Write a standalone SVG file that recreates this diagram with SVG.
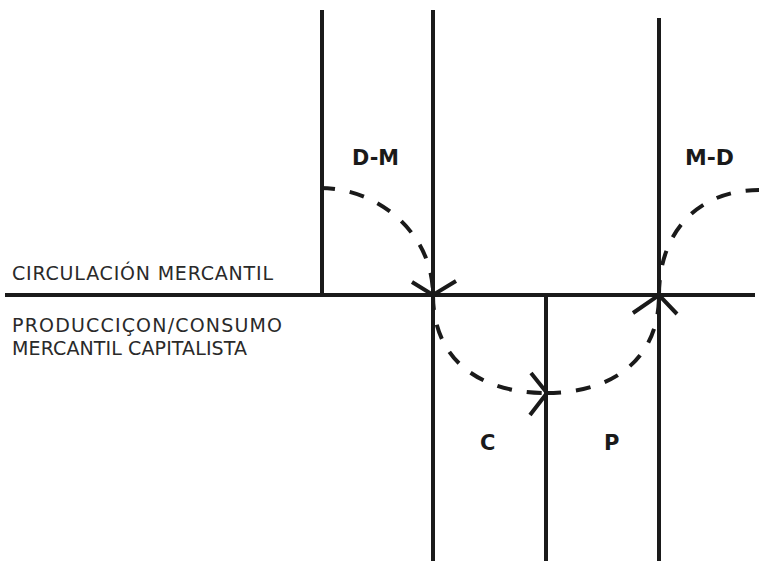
<svg xmlns="http://www.w3.org/2000/svg" width="759" height="569" viewBox="0 0 759 569">
  <style>
    .line { stroke: #1a1a1a; stroke-width: 4; fill: none; stroke-linecap: butt; }
    .dash { stroke: #1a1a1a; stroke-width: 4; fill: none; stroke-dasharray: 15 15; }
    .arrow { stroke: #1a1a1a; stroke-width: 4; fill: none; stroke-linejoin: miter; }
    .lbl { font-family: "DejaVu Sans", "Liberation Sans", sans-serif; font-size: 19px; fill: #2a2a2a; }
    .big { font-family: "DejaVu Sans", "Liberation Sans", sans-serif; font-size: 21px; font-weight: bold; fill: #1a1a1a; }
  </style>
  <rect width="759" height="569" fill="#ffffff"/>
  <g id="axes">
    <line class="line" x1="5" y1="295" x2="755" y2="295"/>
    <line class="line" x1="322" y1="10" x2="322" y2="295"/>
    <line class="line" x1="433" y1="10" x2="433" y2="561"/>
    <line class="line" x1="546" y1="295" x2="546" y2="561"/>
    <line class="line" x1="659" y1="18" x2="659" y2="561"/>
  </g>
  <g id="labels">
    <text class="lbl" x="12" y="280" textLength="261" lengthAdjust="spacing">CIRCULACIÓN MERCANTIL</text>
    <text class="lbl" x="12" y="332" textLength="270" lengthAdjust="spacing">PRODUCCIÇON/CONSUMO</text>
    <text class="lbl" x="12" y="355" textLength="235" lengthAdjust="spacing">MERCANTIL CAPITALISTA</text>
  </g>
  <g id="node-DM"><text class="big" x="352" y="165" textLength="47" lengthAdjust="spacingAndGlyphs">D-M</text></g>
  <g id="node-MD"><text class="big" x="685" y="165" textLength="49" lengthAdjust="spacingAndGlyphs">M-D</text></g>
  <g id="node-C"><text class="big" x="480" y="450">C</text></g>
  <g id="node-P"><text class="big" x="604" y="450">P</text></g>
  <g id="connectors">
    <path class="dash" d="M320,188 C380,188 433,235 433,295"/>
    <path class="dash" d="M433,295 C433,360 480,393 546,393"/>
    <path class="dash" d="M546,393 C612,393 659,360 659,295"/>
    <path class="dash" d="M659,295 C659,230 700,190 759,190"/>
    <polyline class="arrow" points="412,282 433,295 456,281"/>
    <polyline class="arrow" points="531,373 547,393 530,415"/>
    <polyline class="arrow" points="633,313 659,295 677,314"/>
  </g>
</svg>
